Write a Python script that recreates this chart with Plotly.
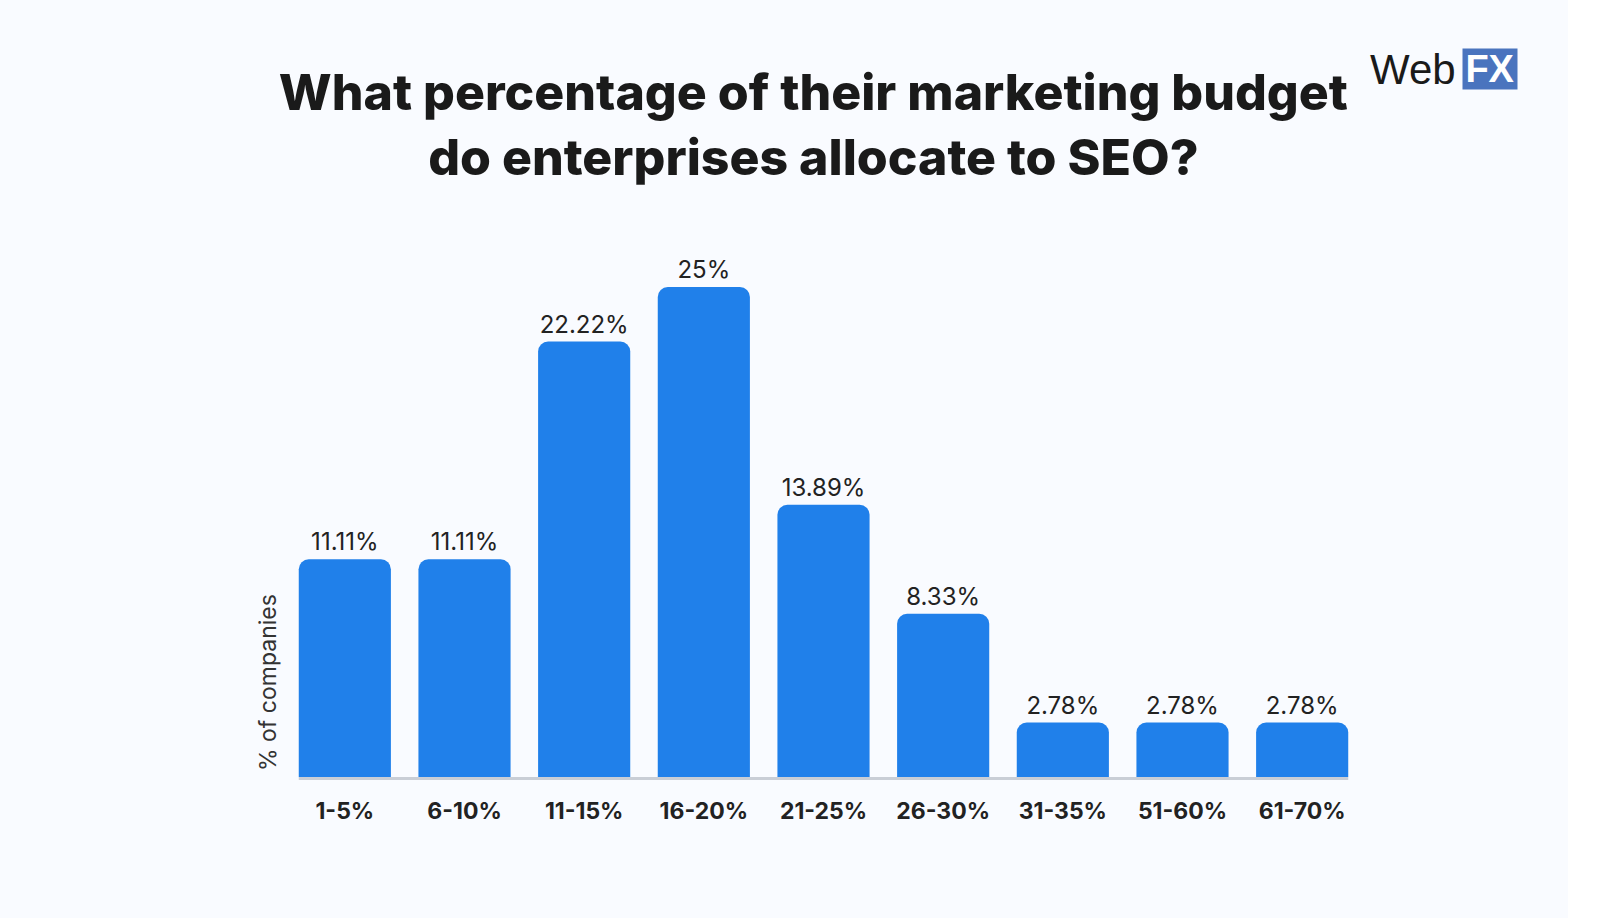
import plotly.graph_objects as go

categories = ["1-5%", "6-10%", "11-15%", "16-20%", "21-25%", "26-30%", "31-35%", "51-60%", "61-70%"]
values = [11.11, 11.11, 22.22, 25, 13.89, 8.33, 2.78, 2.78, 2.78]
labels = ["11.11%", "11.11%", "22.22%", "25%", "13.89%", "8.33%", "2.78%", "2.78%", "2.78%"]

W, H = 1600, 922
L, R, T, B = 285, 1362, 200, 777
PW, PH = R - L, B - T
fig = go.Figure(go.Bar(
    x=categories, y=values, text=labels, textposition="outside", cliponaxis=False,
    textfont=dict(family="Inter", size=24, color="#222"),
    marker=dict(color="#2080ea", cornerradius=10, line=dict(width=0)),
    width=0.77,
))
fig.update_layout(
    width=W, height=H, paper_bgcolor="white", plot_bgcolor="rgba(0,0,0,0)",
    margin=dict(l=L, r=W - R, t=T, b=H - B),
    showlegend=False,
    shapes=[dict(type="rect", xref="paper", yref="paper", x0=-L/PW, x1=(1568-L)/PW,
                 y0=-(922-B-4)/PH, y1=B/PH, fillcolor="#f9fbff", line=dict(width=0),
                 layer="below"),
            dict(type="line", xref="x", yref="paper", x0=-0.385, x1=8.385, y0=-1.5/PH, y1=-1.5/PH,
                 line=dict(color="#c9ced6", width=3))],
    title=dict(text="What percentage of their marketing budget<br>do enterprises allocate to SEO?",
               x=785/W, xref="paper", xanchor="center", y=1-110/H, yanchor="middle",
               font=dict(family="Inter", size=50, color="#1a1a1a", weight=800)),
    xaxis=dict(showgrid=False, showline=False, ticks="", tickfont=dict(family="Inter", size=23, color="#222", weight=700),
               ticklabelstandoff=18, fixedrange=True),
    yaxis=dict(range=[0, 29.44], visible=False, fixedrange=True),
    annotations=[
        dict(text="% of companies", textangle=-90, x=252, y=683,
             font=dict(family="Inter", size=23, color="#333")),
        dict(text="Web", x=1368, y=70, xanchor="left",
             font=dict(family="Liberation Sans", size=42, color="#1a1a1a")),
        dict(text="<b>FX</b>", x=1490, y=69, xanchor="center",
             font=dict(family="Liberation Sans", size=38, color="white"),
             bgcolor="#4a74be", width=52, height=38),
    ],
)
for a in fig.layout.annotations:
    a.xref = "paper"; a.yref = "paper"; a.showarrow = False; a.yanchor = "middle"
    a.x = (a.x - L) / PW
    a.y = (B - a.y) / PH
fig.write_html("out.html", config={"responsive": False, "displayModeBar": False})
with open("out.html") as f:
    s = f.read()
s = s.replace("<body>", '<body style="margin:0;overflow:hidden">', 1)
with open("out.html", "w") as f:
    f.write(s)
